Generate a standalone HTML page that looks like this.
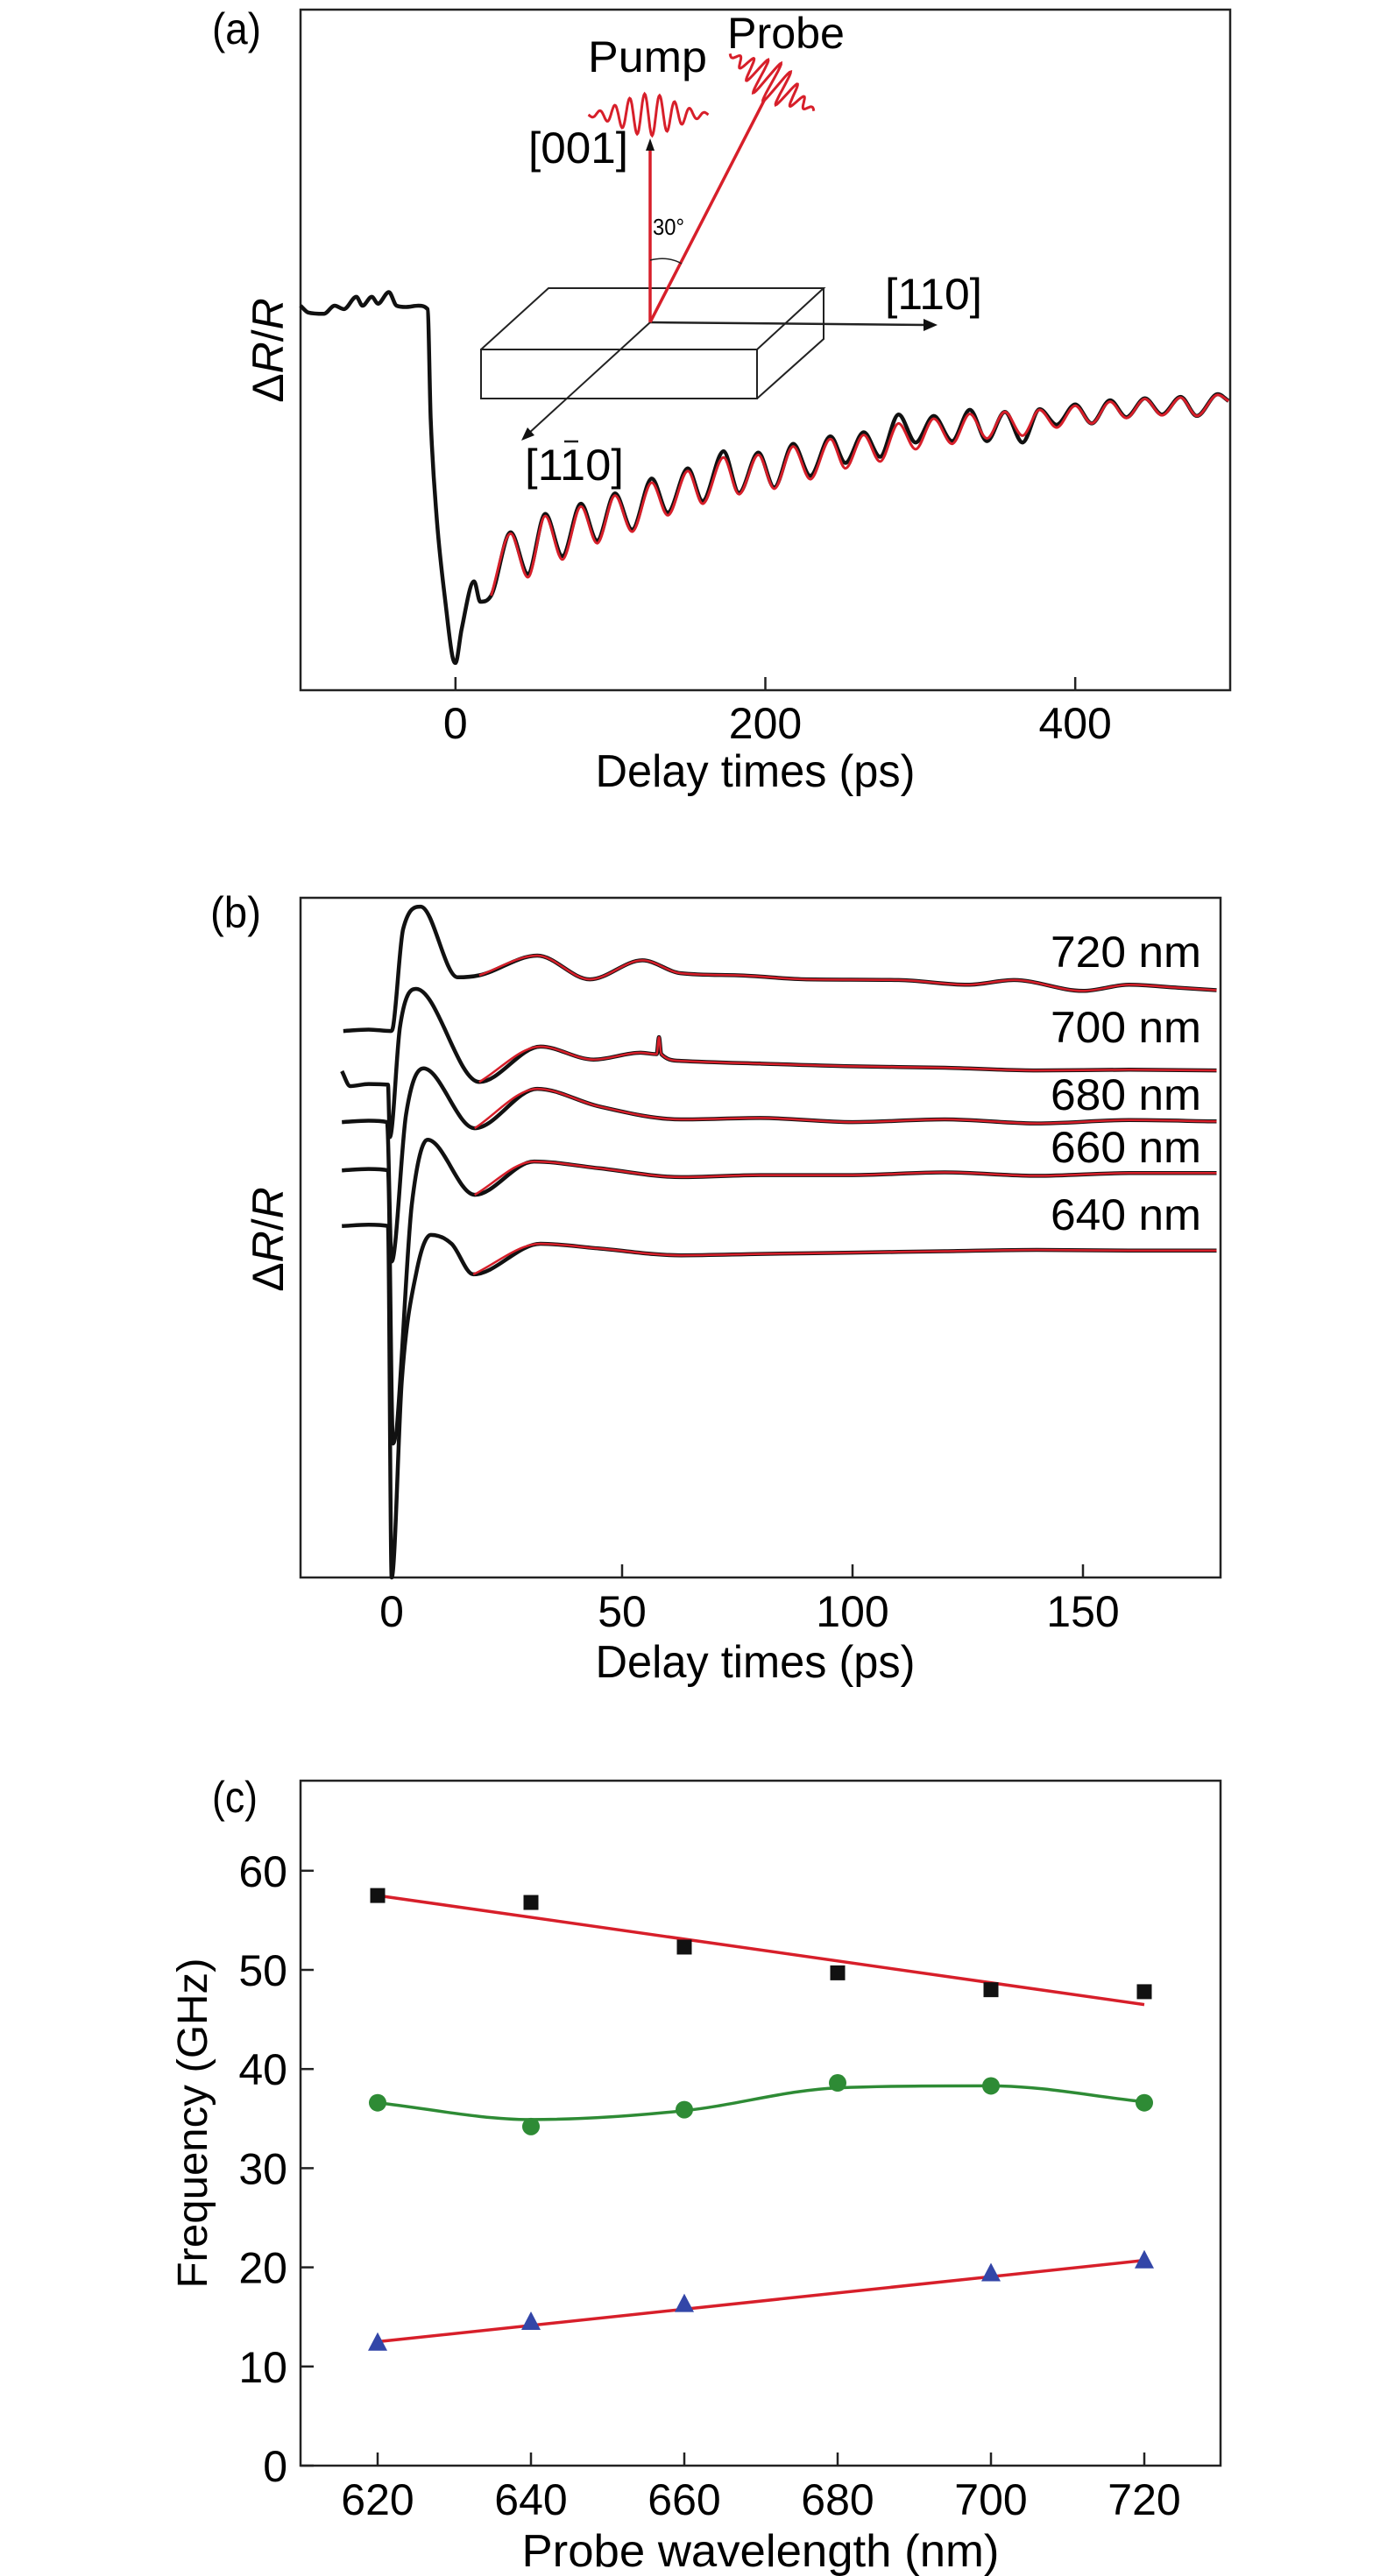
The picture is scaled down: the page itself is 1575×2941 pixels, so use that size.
<!DOCTYPE html>
<html><head><meta charset="utf-8"><style>
html,body{margin:0;padding:0;background:#fff;}
svg{display:block;font-family:"Liberation Sans",sans-serif;}
</style></head><body>
<svg id="fig" width="1575" height="2941" viewBox="0 0 1575 2941" xmlns="http://www.w3.org/2000/svg">
<rect width="1575" height="2941" fill="#fff"/>
<g id="pa">
 <rect x="343" y="11" width="1061" height="777" fill="none" stroke="#222" stroke-width="2.5"/>
 <text x="242" y="50" font-size="50" textLength="56" lengthAdjust="spacingAndGlyphs">(a)</text>
 <text transform="translate(323,400) rotate(-90)" text-anchor="middle" font-size="50">Δ<tspan font-style="italic">R</tspan>/<tspan font-style="italic">R</tspan></text>
 <text x="862" y="898" text-anchor="middle" font-size="52" textLength="365" lengthAdjust="spacingAndGlyphs">Delay times (ps)</text>
 <g id="pa-ticks"></g>
 <g id="diagram">
  <g fill="none" stroke="#222" stroke-width="2">
   <rect x="549" y="399" width="315" height="56"/>
   <path d="M549,399 L626,329 L940,329 L864,399 M940,329 L940,387 L864,455"/>
  </g>
  <line x1="742" y1="368" x2="1058" y2="371" stroke="#222" stroke-width="2.5"/>
  <path d="M1070,371 L1054,364 L1054,378 Z" fill="#111"/>
  <line x1="742" y1="368" x2="602" y2="496" stroke="#222" stroke-width="2"/>
  <path d="M595,503 L602,488 L610,497 Z" fill="#111"/>
  <line x1="742" y1="368" x2="742" y2="166" stroke="#d71f2a" stroke-width="3.5"/>
  <path d="M742,158 L737,172 L747,172 Z" fill="#111"/>
  <line x1="742" y1="368" x2="873" y2="113" stroke="#d71f2a" stroke-width="3.5"/>
  <path d="M742,297 Q762,292 778,301" fill="none" stroke="#222" stroke-width="1.5"/>
  <path id="pumpwave" fill="none" stroke="#d71f2a" stroke-width="3"/>
  <path id="probewave" fill="none" stroke="#d71f2a" stroke-width="3"/>
  <text x="671" y="82" font-size="50" textLength="136" lengthAdjust="spacingAndGlyphs">Pump</text>
  <text x="830" y="55" font-size="50" textLength="134" lengthAdjust="spacingAndGlyphs">Probe</text>
  <text x="603" y="186" font-size="50" textLength="114" lengthAdjust="spacingAndGlyphs">[001]</text>
  <text x="745" y="268" font-size="26" textLength="36" lengthAdjust="spacingAndGlyphs">30°</text>
  <text x="1010" y="353" font-size="50" textLength="111" lengthAdjust="spacingAndGlyphs">[110]</text>
  <text x="599" y="548" font-size="50" textLength="113" lengthAdjust="spacingAndGlyphs">[110]</text>
  <line x1="644" y1="504" x2="660" y2="504" stroke="#222" stroke-width="2.5"/>
 </g>
 <g id="pa-data"></g>
</g>
<g id="pb">
 <rect x="343" y="1025" width="1050" height="776" fill="none" stroke="#222" stroke-width="2.5"/>
 <text x="240" y="1059" font-size="50" textLength="58" lengthAdjust="spacingAndGlyphs">(b)</text>
 <text transform="translate(323,1415) rotate(-90)" text-anchor="middle" font-size="50">Δ<tspan font-style="italic">R</tspan>/<tspan font-style="italic">R</tspan></text>
 <text x="862" y="1915" text-anchor="middle" font-size="52" textLength="365" lengthAdjust="spacingAndGlyphs">Delay times (ps)</text>
 <g id="pb-ticks"></g>
 <g id="pb-data"></g>
</g>
<g id="pc">
 <rect x="343" y="2033" width="1050" height="782" fill="none" stroke="#222" stroke-width="2.5"/>
 <text x="242" y="2069" font-size="50" textLength="52" lengthAdjust="spacingAndGlyphs">(c)</text>
 <text transform="translate(236,2424) rotate(-90)" text-anchor="middle" font-size="48" textLength="377" lengthAdjust="spacingAndGlyphs">Frequency (GHz)</text>
 <text x="868" y="2930" text-anchor="middle" font-size="52" textLength="545" lengthAdjust="spacingAndGlyphs">Probe wavelength (nm)</text>
 <g id="pc-ticks"></g>
 <g id="pc-data"></g>
</g>
</svg>
<script>
// ---------- Panel (a) data ----------
const aXTicks = [0, 200, 400];
const aRawT = [-100,-95,-85,-78,-72,-64,-60,-54,-50,-43,-38,-32,-24,-18,-16,-12,-6,-2,0,4,12,16,23];
const aRawV = [56.5,55.5,55.3,56.5,56,57.8,56.5,57.8,56.8,58.5,56.5,56.3,56.5,56,40,25,12,5,4,9,16,13,13.9];
const aOscT = [35.6,46.7,58,69,81,91.4,103,114,126.7,137,150,159.5,173,183,195.5,205.7,218,229,242,251.7,263.5,274,286,297,308.7,320.5,332,343,354.6,366,377,388,400,410.6,422.5,433,445,456,468,478.5,492,499];
const aOscV = [23.2,17.1,25.9,19.7,27.4,22.0,28.9,23.6,31.1,26.1,32.6,27.8,35.1,29.0,34.9,29.8,36.2,31.5,37.3,33.4,37.9,34.3,40.5,36.4,40.3,36.6,41.2,36.6,40.9,36.4,41.3,39.0,42.0,39.2,42.6,40.1,42.9,40.5,43.1,40.3,43.5,42.5];
const aFitV = [23.0,16.6,25.6,19.2,27.0,21.6,28.6,23.3,30.5,25.7,32.2,27.4,34.2,28.8,34.6,29.6,35.8,31.0,36.9,32.6,37.5,33.6,39.2,35.4,39.9,36.2,40.6,37.0,40.9,37.4,41.2,38.6,41.8,39.2,42.4,40.0,42.8,40.4,43.0,40.3,43.4,42.5];

// ---------- Panel (b) data ----------
const bXTicks = [0, 50, 100, 150];
const bLabels = ["720 nm","700 nm","680 nm","660 nm","640 nm"];
const bT720 = [-10.5,-5,-0.2,0.3,2.5,6.3,14.3,19,31.6,43,54.4,62.7,75,90,110,125,135,150,160,170,179];
const bV720 = [80.4,80.6,80.4,81,95.4,98.7,88.3,88.6,91.5,88,90.8,88.9,88.6,88,87.9,87.2,87.9,86.3,87.2,86.8,86.4];
const bT700 = [-10.8,-9,-5,-0.8,-0.4,1.8,5.3,19,32.3,43.8,54,57.5,58,58.5,62.8,80,100,120,140,160,179];
const bV700 = [74.5,72.3,72.6,72.5,64.8,81,86.6,72.9,78.1,76.2,77.2,77,79.5,77,76,75.6,75.2,75,74.6,74.7,74.6];
const bT680 = [-10.8,-5,-1,0,3.1,6.9,18,31.6,45,62.8,80,100,120,140,160,179];
const bV680 = [67,67.2,67,46.5,68,74.9,66.1,71.9,69.3,67.4,67.6,67,67.4,66.8,67.3,67.1];
const bT660 = [-10.8,-5,-0.8,0.3,4.4,7.8,18,30.9,45,62.8,80,100,120,140,160,179];
const bV660 = [59.9,60.1,59.9,19.7,55,64.4,56.3,61.2,60.2,58.9,59.2,59.2,59.6,59.1,59.5,59.5];
const bT640 = [-10.8,-5,-0.8,0,2.2,5.4,8.5,13,17.7,32.3,45,62.8,80,100,120,140,160,179];
const bV640 = [51.7,51.9,51.7,0,29,45,50.4,49.1,44.6,49.1,48.4,47.4,47.6,47.8,48,48.2,48.1,48.1];
const bFitStart = [19,17,15,15,15];

// ---------- Panel (c) data ----------
const cWave = [620,640,660,680,700,720];
const cYTicks = [0,10,20,30,40,50,60];
const cSquares = [57.5,56.8,52.3,49.7,48.0,47.8];
const cCircles = [36.6,34.2,35.9,38.6,38.3,36.6];
const cCircleFit = [36.6,34.9,35.8,38.1,38.3,36.7];
const cTriWave = [620,640,660,700,720];
const cTriangles = [12.3,14.4,16.2,19.3,20.6];
const cSqFitEnds = [57.5,46.5];
const cTriFitEnds = [12.5,20.7];

// ---------- helpers ----------
const NS = "http://www.w3.org/2000/svg";
function mk(tag, parent, attrs){const e=document.createElementNS(NS,tag);for(const k in attrs)e.setAttribute(k,attrs[k]);parent.appendChild(e);return e;}
function monoPath(xs, ys){
  const n=xs.length; if(n<2) return "";
  const m=[],t=[];
  for(let i=0;i<n-1;i++){m.push((ys[i+1]-ys[i])/((xs[i+1]-xs[i])||1e-6));}
  t[0]=m[0]; t[n-1]=m[n-2];
  for(let i=1;i<n-1;i++){ if(m[i-1]*m[i]<=0) t[i]=0; else t[i]=(m[i-1]+m[i])/2; }
  for(let i=0;i<n-1;i++){
    if(m[i]===0){t[i]=0;t[i+1]=0;continue;}
    const a=t[i]/m[i], b=t[i+1]/m[i], s=a*a+b*b;
    if(s>9){const k=3/Math.sqrt(s);t[i]=k*a*m[i];t[i+1]=k*b*m[i];}
  }
  let d="M"+xs[0].toFixed(1)+","+ys[0].toFixed(1);
  for(let i=0;i<n-1;i++){
    const dx=(xs[i+1]-xs[i])/3;
    d+=" C"+(xs[i]+dx).toFixed(1)+","+(ys[i]+t[i]*dx).toFixed(1)+" "+(xs[i+1]-dx).toFixed(1)+","+(ys[i+1]-t[i+1]*dx).toFixed(1)+" "+xs[i+1].toFixed(1)+","+ys[i+1].toFixed(1);
  }
  return d;
}

// ---------- Panel (a) ----------
const axA = t => 343 + (t + 100) * (1061/600);
const ayA = v => 788 - v * 7.77;
{
  const g=document.getElementById('pa-ticks');
  aXTicks.forEach(v=>{
    const l=mk('line',g,{x1:axA(v),x2:axA(v),y1:788,y2:773,stroke:'#222','stroke-width':2.5});
    
    
    const tx=mk('text',g,{x:axA(v),y:843,'text-anchor':'middle','font-size':50});
    
    
    tx.textContent=v;
  });
  const d=document.getElementById('pa-data');
  const T=aRawT.concat(aOscT), V=aRawV.concat(aOscV);
  const blk=mk('path',d,{d:monoPath(T.map(axA),V.map(ayA)),fill:'none',stroke:'#111','stroke-width':4.5,'stroke-linejoin':'round'});
  
  
  const FT=[23].concat(aOscT), FV=[13.9].concat(aFitV);
  const red=mk('path',d,{d:monoPath(FT.map(axA),FV.map(ayA)),fill:'none',stroke:'#d71f2a','stroke-width':3});
  
  
}
function packet(cx,cy,len,amp,cycles,ang){
  let d="";const N=160,ca=Math.cos(ang),sa=Math.sin(ang);
  for(let i=0;i<=N;i++){const u=i/N-0.5;const env=Math.exp(-u*u*10);const w=amp*env*Math.sin(u*cycles*2*Math.PI);
    const px=u*len, py=w; const x=cx+px*ca-py*sa, y=cy+px*sa+py*ca; d+=(i?"L":"M")+x.toFixed(1)+","+y.toFixed(1);}
  return d;
}
document.getElementById('pumpwave').setAttribute('d',packet(740,131,137,24,8,0));
document.getElementById('probewave').setAttribute('d',packet(881,94,116,24,8,0.6));

// ---------- Panel (b) ----------
const axB = t => 447 + t * 5.26;
const ayB = v => 1801 - v * 7.76;
{
  const g=document.getElementById('pb-ticks');
  bXTicks.forEach(v=>{
    const l=mk('line',g,{x1:axB(v),x2:axB(v),y1:1801,y2:1786,stroke:'#222','stroke-width':2.5});
    
    
    const tx=mk('text',g,{x:axB(v),y:1857,'text-anchor':'middle','font-size':50});
    
    
    tx.textContent=v;
  });
  const d=document.getElementById('pb-data');
  const Ts=[bT720,bT700,bT680,bT660,bT640], Vs=[bV720,bV700,bV680,bV660,bV640];
  const labY=[1104,1190,1267,1327,1404];
  Ts.forEach((T,k)=>{
    const V=Vs[k];
    const blk=mk('path',d,{d:monoPath(T.map(axB),V.map(ayB)),fill:'none',stroke:'#111','stroke-width':4.5,'stroke-linejoin':'round'});
    
    
    const ft=[],fv=[];
    T.forEach((t,i)=>{ if(t>=bFitStart[k]){ft.push(t);fv.push(V[i]);} });
    const red=mk('path',d,{d:monoPath(ft.map(axB),fv.map(ayB)),fill:'none',stroke:'#d71f2a','stroke-width':2.5});
    
    
    const tx=mk('text',d,{x:1371,y:labY[k],'text-anchor':'end','font-size':50,textLength:172,lengthAdjust:'spacingAndGlyphs'});
    
    
    tx.textContent=bLabels[k];
  });
}

// ---------- Panel (c) ----------
const axC = w => 431 + (w - 620) * 8.75;
const ayC = f => 2815 - f * 11.32;
{
  const g=document.getElementById('pc-ticks');
  cWave.forEach(v=>{
    const l=mk('line',g,{x1:axC(v),x2:axC(v),y1:2815,y2:2800,stroke:'#222','stroke-width':2.5});
    
    
    const tx=mk('text',g,{x:axC(v),y:2871,'text-anchor':'middle','font-size':50});
    
    
    tx.textContent=v;
  });
  cYTicks.forEach(v=>{
    const l=mk('line',g,{x1:343,x2:358,y1:ayC(v),y2:ayC(v),stroke:'#222','stroke-width':2.5});
    
    
    const tx=mk('text',g,{x:328,y:ayC(v)+18,'text-anchor':'end','font-size':50});
    
    
    tx.textContent=v;
  });
  const d=document.getElementById('pc-data');
  const f1=mk('line',d,{x1:axC(620),y1:ayC(cSqFitEnds[0]),x2:axC(720),y2:ayC(cSqFitEnds[1]),stroke:'#d71f2a','stroke-width':3.5});
  
  
  const f2=mk('path',d,{d:monoPath(cWave.map(axC),cCircleFit.map(ayC)),fill:'none',stroke:'#2e8b35','stroke-width':3.5});
  
  
  const f3=mk('line',d,{x1:axC(620),y1:ayC(cTriFitEnds[0]),x2:axC(720),y2:ayC(cTriFitEnds[1]),stroke:'#d71f2a','stroke-width':3.5});
  
  
  cWave.forEach((w,i)=>{
    const s=mk('rect',d,{x:axC(w)-8.5,y:ayC(cSquares[i])-8.5,width:17,height:17,fill:'#111'});
    
    
    const c=mk('circle',d,{cx:axC(w),cy:ayC(cCircles[i]),r:10,fill:'#2e8b35'});
    
    
  });
  cTriWave.forEach((w,i)=>{
    const x=axC(w),y=ayC(cTriangles[i]);
    const p=mk('path',d,{d:`M${x},${y-13} L${x+11},${y+8} L${x-11},${y+8} Z`,fill:'#3346a8'});
    
    
  });
}
</script>
</body></html>
